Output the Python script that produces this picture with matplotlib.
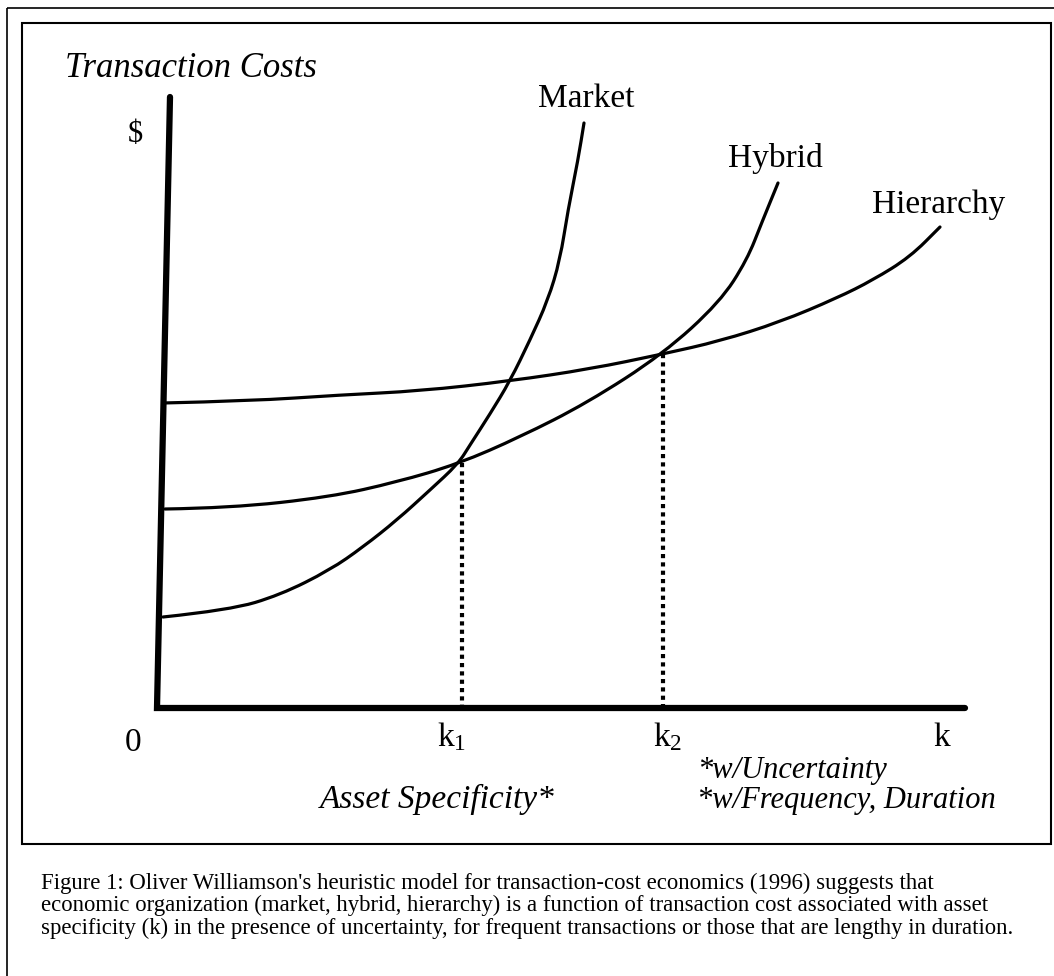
import matplotlib
matplotlib.use("Agg")
import matplotlib.pyplot as plt
from matplotlib.patches import Rectangle, PathPatch
from matplotlib.path import Path

plt.rcParams['font.family'] = ['Liberation Serif', 'DejaVu Serif']
plt.rcParams['mathtext.fontset'] = 'custom'
plt.rcParams['mathtext.rm'] = 'Liberation Serif'

# curves (x = asset specificity, y = cost, screen units, y grows downward)
market_x = [163, 230, 280, 330, 363, 397, 430, 458, 470, 490, 510, 530, 548, 560, 568, 578, 584]
market_y = [617, 610, 595, 570, 547, 520, 490, 464, 445, 414, 381, 340, 300, 260, 210, 160, 123]

hybrid_x = [165, 230, 330, 397, 458, 520, 587, 663, 720, 747, 762, 778]
hybrid_y = [509, 508, 497, 482, 464, 437, 403, 354, 302, 260, 222, 183]

hierarchy_x = [163, 250, 340, 420, 510, 590, 663, 720, 780, 837, 873, 910, 940]
hierarchy_y = [403, 401, 395, 391, 381, 369, 354, 341, 322, 298, 280, 257, 227]

# k1 / k2 crossing points and axis
k_x = [462, 663]
k_top = [463, 354]
axis_x = [170, 157, 965]
axis_y = [97, 708, 708]

curve_labels = ["Market", "Hybrid", "Hierarchy"]
label_x = [538, 728, 872]
label_y = [107, 167, 213]

tick_labels = ["0", r"k$\mathregular{_1}$", r"k$\mathregular{_2}$", "k"]
tick_x = [125, 437, 653, 933]
tick_y = [751, 746, 746, 746]

caption = [
    "Figure 1: Oliver Williamson's heuristic model for transaction-cost economics (1996) suggests that",
    "economic organization (market, hybrid, hierarchy) is a function of transaction cost associated with asset",
    "specificity (k) in the presence of uncertainty, for frequent transactions or those that are lengthy in duration.",
]


def smooth_path(xs, ys):
    # quadratic bezier through midpoints, the read points act as control points
    pts = list(zip(xs, ys))
    verts = [pts[0]]
    codes = [Path.MOVETO]
    for i in range(1, len(pts) - 1):
        mid = ((pts[i][0] + pts[i + 1][0]) / 2, (pts[i][1] + pts[i + 1][1]) / 2)
        verts += [pts[i], mid]
        codes += [Path.CURVE3, Path.CURVE3]
    verts.append(pts[-1])
    codes.append(Path.LINETO)
    return Path(verts, codes)


fig = plt.figure(figsize=(10.54, 9.76), dpi=100)
ax = fig.add_axes([0, 0, 1, 1])
ax.set_xlim(0, 1054)
ax.set_ylim(976, 0)
ax.axis('off')

# frames
ax.add_patch(Rectangle((7, 8), 1080, 1000, fill=False, lw=1.2, ec='black'))
ax.add_patch(Rectangle((22, 23), 1029, 821, fill=False, lw=1.5, ec='black'))

# axes
ax.plot(axis_x, axis_y, color='black', lw=4.5, solid_capstyle='round', solid_joinstyle='miter')

# curves
for xs, ys in [(market_x, market_y), (hybrid_x, hybrid_y), (hierarchy_x, hierarchy_y)]:
    ax.add_patch(PathPatch(smooth_path(xs, ys), fill=False, lw=2.3, ec='black', capstyle='round'))

# dotted drop lines
for x, top in zip(k_x, k_top):
    ax.plot([x, x], [top, 706], color='black', lw=3, linestyle=(0, (1, 1)), dash_capstyle='butt')

# text
ax.text(65, 77, "Transaction Costs", fontsize=25, style='italic', va='baseline')
ax.text(128, 142, "$", fontsize=22, va='baseline')
for t, x, y in zip(curve_labels, label_x, label_y):
    ax.text(x, y, t, fontsize=24, va='baseline')
for t, x, y in zip(tick_labels, tick_x, tick_y):
    ax.text(x, y, t, fontsize=24, va='baseline')
ax.text(320, 808, "Asset Specificity*", fontsize=24, style='italic', va='baseline')
ax.text(697, 778, "*w/Uncertainty", fontsize=22, style='italic', va='baseline')
ax.text(697, 808, "*w/Frequency, Duration", fontsize=22, style='italic', va='baseline')

for i, line in enumerate(caption):
    ax.text(41, 889 + 22.5 * i, line, fontsize=16.4, va='baseline')

fig.savefig("out.png", dpi=100)
